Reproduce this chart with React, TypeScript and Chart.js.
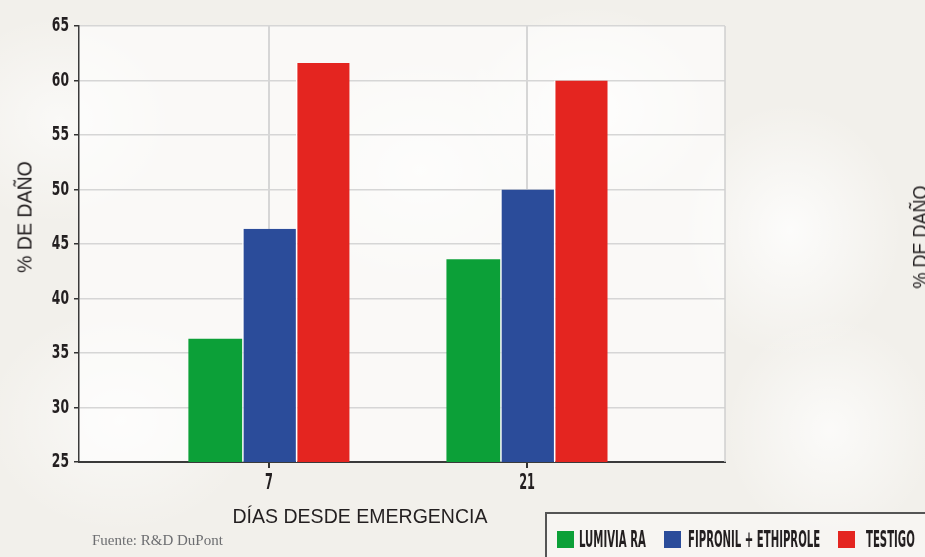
import React, { useEffect, useRef } from "react";
import { Chart, registerables } from "chart.js";

Chart.register(...registerables);

// ---- data ----
const categories = ["7", "21"];
const seriesNames = ["LUMIVIA RA", "FIPRONIL + ETHIPROLE", "TESTIGO"];
const lumiviaValues = [36.3, 43.6];
const fipronilValues = [46.4, 50.0];
const testigoValues = [61.6, 60.0];
const seriesColors = ["#0ca038", "#2b4c9a", "#e42520"];
const yMin = 25;
const yMax = 65;
const yStep = 5;
const xTitle = "DÍAS DESDE EMERGENCIA";
const yTitle = "% DE DAÑO";
const sourceText = "Fuente: R&D DuPont";

const seriesValues = [lumiviaValues, fipronilValues, testigoValues];

const TEXT_COLOR = "#231f20";
const CONDENSED = '"Liberation Sans Narrow", "DejaVu Sans Condensed", sans-serif';

function drawCondensed(
  ctx: CanvasRenderingContext2D,
  text: string,
  x: number,
  y: number,
  size: number,
  sx: number,
  align: CanvasTextAlign
) {
  ctx.save();
  ctx.font = `bold ${size}px ${CONDENSED}`;
  ctx.fillStyle = TEXT_COLOR;
  ctx.textBaseline = "middle";
  ctx.textAlign = align;
  ctx.translate(x, y);
  ctx.scale(sx, 1);
  ctx.fillText(text, 0, 0);
  ctx.restore();
}

const plotDecor = {
  id: "plotDecor",
  beforeDraw(chart: any) {
    const { ctx, chartArea } = chart;
    ctx.save();
    ctx.fillStyle = "rgba(255,255,255,0.6)";
    ctx.fillRect(chartArea.left, chartArea.top, chartArea.right - chartArea.left, chartArea.bottom - chartArea.top);
    ctx.restore();
  },
  beforeDatasetsDraw(chart: any) {
    const { ctx, chartArea } = chart;
    ctx.save();
    ctx.strokeStyle = "#cfcfcf";
    ctx.lineWidth = 1.5;
    ctx.beginPath();
    ctx.moveTo(chartArea.right, chartArea.top);
    ctx.lineTo(chartArea.right, chartArea.bottom);
    ctx.stroke();
    ctx.restore();
  },
  afterDraw(chart: any) {
    const { ctx, chartArea } = chart;
    const ys = chart.scales.y;
    const xs = chart.scales.x;
    ys.ticks.forEach((t: any) => {
      const py = ys.getPixelForValue(t.value);
      drawCondensed(ctx, String(t.value), chartArea.left - 10, py + 0.5, 19, 0.72, "right");
    });
    categories.forEach((c, i) => {
      const px = xs.getPixelForValue(i);
      drawCondensed(ctx, c, px, chartArea.bottom + 22, 21, 0.6, "center");
    });
  },
};

function measure(text: string, font: string): number {
  const c = document.createElement("canvas").getContext("2d")!;
  c.font = font;
  return c.measureText(text).width;
}

const LEGEND_FONT = `bold 23px ${CONDENSED}`;
const LEGEND_SX = 0.49;

export default function App() {
  const canvasRef = useRef<HTMLCanvasElement | null>(null);

  useEffect(() => {
    const canvas = canvasRef.current;
    if (!canvas) return;
    const chart = new Chart(canvas, {
      type: "bar",
      data: {
        datasets: seriesNames.map((name, si) => ({
          label: name,
          data: seriesValues[si].map((v, i) => ({ x: i, y: v })),
          backgroundColor: seriesColors[si],
          borderColor: "#ffffff",
          borderWidth: si === 0 ? 0 : { left: 1.5, right: 0, top: 0, bottom: 0 },
          borderSkipped: false,
          categoryPercentage: 0.625,
          barPercentage: 1,
        })),
      },
      options: {
        responsive: false,
        animation: false,
        layout: { padding: { left: 0, top: 26, right: 200, bottom: 95 } },
        plugins: {
          legend: { display: false },
          tooltip: { enabled: false },
          title: { display: false },
        },
        scales: {
          x: {
            type: "linear",
            min: -0.7364,
            max: 1.767,
            offset: false,
            afterBuildTicks: (s: any) => {
              s.ticks = categories.map((_, i) => ({ value: i }));
            },
            afterFit: (s: any) => {
              s.height = 0;
            },
            ticks: { display: false },
            grid: {
              offset: false,
              color: "#d6d6d6",
              lineWidth: 2,
              tickColor: "#333333",
              tickLength: 6,
              drawTicks: true,
            },
            border: { color: "#3a3a3a", width: 2 },
          },
          y: {
            min: yMin,
            max: yMax,
            ticks: { stepSize: yStep, display: false },
            afterFit: (s: any) => {
              s.width = 79;
            },
            grid: { color: "#d6d6d6", lineWidth: 1.5, tickColor: "#333333", tickLength: 5 },
            border: { color: "#3a3a3a", width: 1.5 },
          },
        },
      } as any,
      plugins: [plotDecor],
    });
    return () => chart.destroy();
  }, []);

  const bg =
    "radial-gradient(ellipse 170px 140px at 590px 110px, rgba(255,255,255,0.75), rgba(255,255,255,0) 75%)," +
    "radial-gradient(ellipse 150px 170px at 790px 230px, rgba(255,255,255,0.8), rgba(255,255,255,0) 75%)," +
    "radial-gradient(ellipse 140px 150px at 830px 430px, rgba(255,255,255,0.7), rgba(255,255,255,0) 75%)," +
    "radial-gradient(ellipse 200px 160px at 420px 170px, rgba(255,255,255,0.6), rgba(255,255,255,0) 75%)," +
    "radial-gradient(ellipse 180px 150px at 120px 420px, rgba(255,255,255,0.6), rgba(255,255,255,0) 75%)," +
    "radial-gradient(ellipse 160px 140px at 60px 120px, rgba(255,255,255,0.6), rgba(255,255,255,0) 75%)," +
    "#f2f0eb";

  const legendWidths = seriesNames.map((n) => measure(n, LEGEND_FONT) * LEGEND_SX);

  return (
    <div
      style={{
        position: "fixed",
        left: 0,
        top: 0,
        width: 925,
        height: 557,
        overflow: "hidden",
        background: bg,
        fontFamily: '"Liberation Sans", Arial, sans-serif',
      }}
    >
      <canvas ref={canvasRef} width={925} height={557} style={{ position: "absolute", left: 0, top: 0 }} />

      {/* Y axis title */}
      <div
        style={{
          position: "absolute",
          left: 24,
          top: 217,
          fontSize: 21,
          lineHeight: "21px",
          color: TEXT_COLOR,
          whiteSpace: "nowrap",
          transform: "translate(-50%, -50%) rotate(-90deg) scaleX(0.93)",
        }}
      >
        {yTitle}
      </div>

      {/* X axis title */}
      <div
        style={{
          position: "absolute",
          left: 360,
          top: 505,
          fontSize: 21,
          lineHeight: "21px",
          color: TEXT_COLOR,
          whiteSpace: "nowrap",
          transform: "translateX(-50%) scaleX(0.93)",
        }}
      >
        {xTitle}
      </div>

      {/* Fragment of neighbouring chart title */}
      <div
        style={{
          position: "absolute",
          left: 920,
          top: 237,
          fontSize: 20,
          lineHeight: "20px",
          color: TEXT_COLOR,
          whiteSpace: "nowrap",
          transform: "translate(-50%, -50%) rotate(-90deg) scaleX(0.9)",
        }}
      >
        {yTitle}
      </div>

      {/* Source */}
      <div
        style={{
          position: "absolute",
          left: 92,
          top: 533,
          fontSize: 15,
          lineHeight: "15px",
          color: "#6d6e71",
          fontFamily: '"Liberation Serif", "DejaVu Serif", serif',
          whiteSpace: "nowrap",
        }}
      >
        {sourceText}
      </div>

      {/* Legend */}
      <div
        style={{
          position: "absolute",
          left: 545,
          top: 512,
          width: 420,
          height: 70,
          boxSizing: "border-box",
          border: "2px solid #555555",
          background: "rgba(250,249,246,0.6)",
        }}
      >
        <div
          style={{
            position: "absolute",
            left: 10,
            top: 16,
            display: "flex",
            alignItems: "center",
            height: 18,
          }}
        >
          {seriesNames.map((name, i) => (
            <div key={name} style={{ display: "flex", alignItems: "center", marginRight: 18 }}>
              <div style={{ width: 17, height: 17, background: seriesColors[i], marginRight: i === 2 ? 11 : i === 1 ? 7 : 5 }} />
              <div style={{ position: "relative", width: legendWidths[i], height: 18 }}>
                <span
                  style={{
                    position: "absolute",
                    left: 0,
                    top: -2,
                    font: LEGEND_FONT,
                    lineHeight: "22px",
                    color: TEXT_COLOR,
                    whiteSpace: "nowrap",
                    transformOrigin: "0 0",
                    transform: `scaleX(${LEGEND_SX})`,
                  }}
                >
                  {name}
                </span>
              </div>
            </div>
          ))}
        </div>
      </div>
    </div>
  );
}
